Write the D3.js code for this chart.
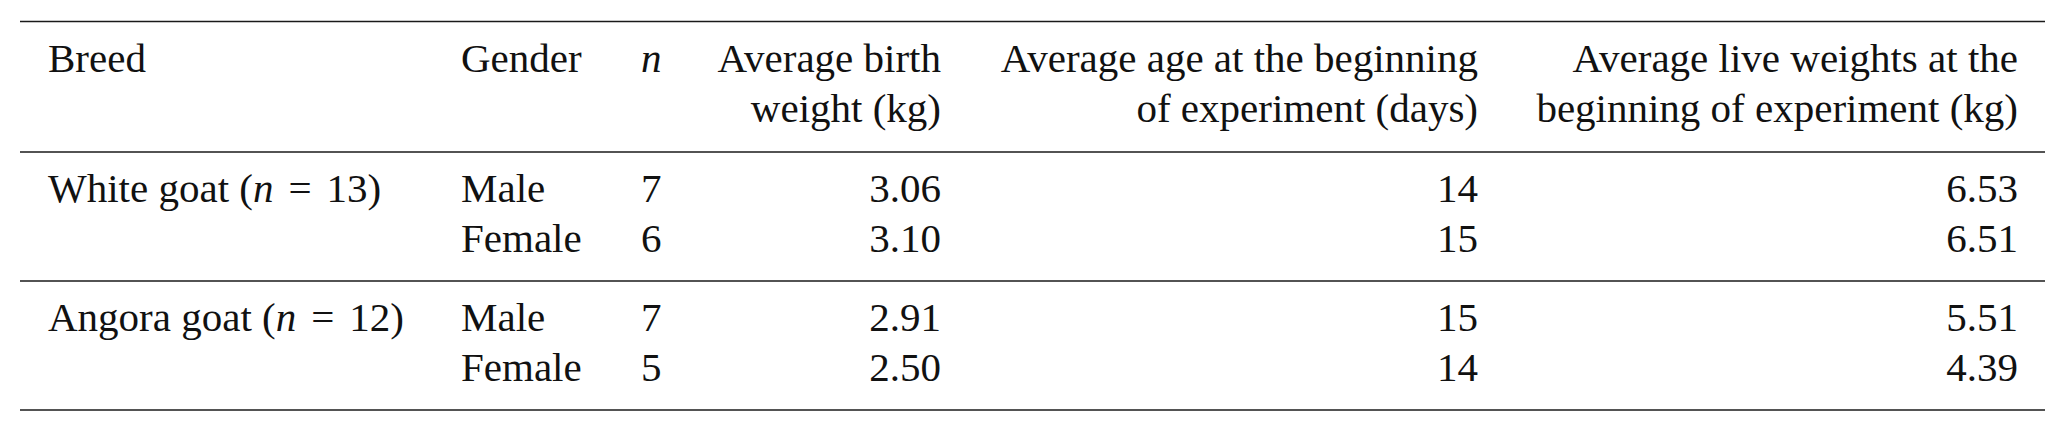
<!DOCTYPE html>
<html>
<head>
<meta charset="utf-8">
<script src="https://cdn.jsdelivr.net/npm/d3@7"></script>
<style>
  html, body { margin: 0; padding: 0; background: #fff; }
  svg { display: block; }
</style>
</head>
<body>
<svg id="chart" width="2067" height="432"></svg>
<script>
// ---- data ----
const breeds = ["White goat", "Angora goat"];
const breedN = [13, 12];
const genders = ["Male", "Female"];
const nValues = [[7, 6], [7, 5]];
const birthWeight = [[3.06, 3.10], [2.91, 2.50]];
const ageDays = [[14, 15], [15, 14]];
const liveWeight = [[6.53, 6.51], [5.51, 4.39]];
const headers = [
  ["Breed"],
  ["Gender"],
  ["n"],
  ["Average birth", "weight (kg)"],
  ["Average age at the beginning", "of experiment (days)"],
  ["Average live weights at the", "beginning of experiment (kg)"]
];

// ---- layout ----
const FONT = "'Liberation Serif', 'Times New Roman', Times, serif";
const svg = d3.select("#chart")
  .attr("font-family", FONT)
  .attr("font-size", 41)
  .attr("fill", "#111");
const left = 20, right = 2045;
const ruleY = { top: 21.5, head: 152, bottom: 410 };

const colKeys = ["breed", "gender", "n", "birth", "age", "live"];
const colX = d3.scaleOrdinal().domain(colKeys).range([48, 461, 641, 941, 1478, 2018]);
const colAnchor = d3.scaleOrdinal().domain(colKeys).range(["start", "start", "start", "end", "end", "end"]);

const groupY = d3.scaleBand().domain(breeds).range([ruleY.head, ruleY.bottom]).paddingInner(0).paddingOuter(0);
const rowY = d3.scalePoint().domain(genders).range([50, 100]);
const headLineY = d3.scalePoint().domain([0, 1]).range([72, 122]);

const f2 = d3.format(".2f");

// rules
const rules = [ruleY.top, ruleY.head, ...breeds.slice(1).map(b => groupY(b)), ruleY.bottom];
svg.selectAll("line.rule").data(rules).join("line")
  .attr("class", "rule")
  .attr("x1", left).attr("x2", right)
  .attr("y1", d => d).attr("y2", d => d)
  .attr("stroke", "#1a1a1a").attr("stroke-width", 1.6);

function txt(x, y, anchor) {
  return svg.append("text")
    .attr("x", x).attr("y", y)
    .attr("text-anchor", anchor)
    .attr("font-family", FONT)
    .attr("font-size", 41)
    .attr("fill", "#111");
}

// headers
headers.forEach((lines, ci) => {
  const key = colKeys[ci];
  lines.forEach((t, li) => {
    txt(colX(key), headLineY(li), colAnchor(key))
      .attr("font-style", key === "n" ? "italic" : "normal")
      .text(t);
  });
});

// body rows
const rows = [];
breeds.forEach((b, bi) => {
  genders.forEach((g, gi) => {
    rows.push({ breed: b, bi, gender: g, gi,
      n: nValues[bi][gi], birth: birthWeight[bi][gi], age: ageDays[bi][gi], live: liveWeight[bi][gi] });
  });
});

// breed labels
breeds.forEach((b, bi) => {
  const t = txt(colX("breed"), groupY(b) + rowY(genders[0]), "start");
  t.append("tspan").text(b + " (");
  t.append("tspan").attr("font-style", "italic").text("n");
  t.append("tspan").attr("dx", 15).text("=");
  t.append("tspan").attr("dx", 15).text(breedN[bi] + ")");
});

const cellCols = [
  { key: "gender", fmt: d => d.gender },
  { key: "n", fmt: d => String(d.n) },
  { key: "birth", fmt: d => f2(d.birth) },
  { key: "age", fmt: d => String(d.age) },
  { key: "live", fmt: d => f2(d.live) }
];

cellCols.forEach(c => {
  svg.selectAll("text.c-" + c.key).data(rows).join("text")
    .attr("class", "c-" + c.key)
    .attr("x", colX(c.key))
    .attr("y", d => groupY(d.breed) + rowY(d.gender))
    .attr("text-anchor", colAnchor(c.key))
    .attr("font-family", FONT)
    .attr("font-size", 41)
    .attr("fill", "#111")
    .text(c.fmt);
});
</script>
</body>
</html>
